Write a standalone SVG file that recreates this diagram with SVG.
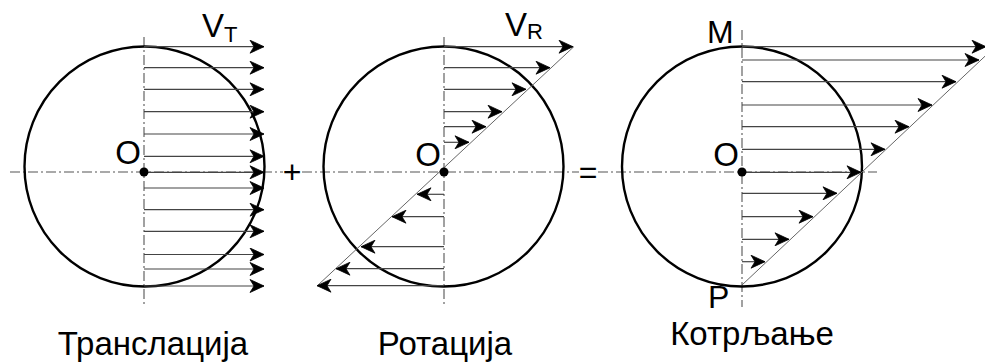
<svg xmlns="http://www.w3.org/2000/svg" width="985" height="362" viewBox="0 0 985 362">
<style>
.wheel{fill:none;stroke:#000;stroke-width:2.4}
.axis{fill:none;stroke:#555;stroke-width:1.1;stroke-dasharray:10 3 2 3}
.vec{fill:none;stroke:#444;stroke-width:1.2;marker-end:url(#ah)}
.diag{fill:none;stroke:#666;stroke-width:1}
.lbl{font-family:"Liberation Sans",Arial,sans-serif;fill:#000}
</style>
<defs>
<marker id="ah" viewBox="-15 -7 16 14" refX="0" refY="0" markerWidth="16" markerHeight="14" orient="auto" markerUnits="userSpaceOnUse">
<path d="M0,0 L-14,-6.5 L-10,0 L-14,6.5 Z" fill="#000" stroke="#000" stroke-width="0.8" stroke-linejoin="miter"/>
</marker>
</defs>

<g id="axes">
<line class="axis" x1="10" y1="172" x2="283" y2="172"/>
<line class="axis" x1="302" y1="172" x2="579" y2="172"/>
<line class="axis" x1="598" y1="172" x2="877" y2="172"/>
<line class="axis" x1="144" y1="37" x2="144" y2="307"/>
<line class="axis" x1="444" y1="37" x2="444" y2="307"/>
<line class="axis" x1="742" y1="30" x2="742" y2="307"/>
</g>

<g id="translation">
<circle class="wheel" cx="144.5" cy="166.5" r="120"/>
<g id="translation-vectors">
<line class="vec" x1="144" y1="46.7" x2="264" y2="46.7"/>
<line class="vec" x1="144" y1="67.7" x2="264" y2="67.7"/>
<line class="vec" x1="144" y1="89.3" x2="264" y2="89.3"/>
<line class="vec" x1="144" y1="111.7" x2="264" y2="111.7"/>
<line class="vec" x1="144" y1="134" x2="264" y2="134"/>
<line class="vec" x1="144" y1="156.3" x2="264" y2="156.3"/>
<line class="vec" x1="144" y1="172.3" x2="264" y2="172.3"/>
<line class="vec" x1="144" y1="188" x2="264" y2="188"/>
<line class="vec" x1="144" y1="209.7" x2="264" y2="209.7"/>
<line class="vec" x1="144" y1="231.3" x2="264" y2="231.3"/>
<line class="vec" x1="144" y1="254.5" x2="264" y2="254.5"/>
<line class="vec" x1="144" y1="269" x2="264" y2="269"/>
<line class="vec" x1="144" y1="286" x2="264" y2="286"/>
</g>
<circle cx="144" cy="172" r="4.5" fill="#000"/>
<text class="lbl" x="141" y="164" font-size="33" text-anchor="end">O</text>
<text class="lbl" x="202" y="37" font-size="33">V<tspan font-size="22" dy="5">T</tspan></text>
<text class="lbl" x="153" y="355" font-size="33" text-anchor="middle">Транслација</text>
</g>

<g id="rotation">
<circle class="wheel" cx="443.5" cy="166.5" r="120"/>
<line class="diag" x1="317" y1="286" x2="574" y2="46.5"/>
<g id="rotation-vectors">
<line class="vec" x1="444" y1="46.7" x2="573" y2="46.7"/>
<line class="vec" x1="444" y1="67.7" x2="550" y2="67.7"/>
<line class="vec" x1="444" y1="89.3" x2="526" y2="89.3"/>
<line class="vec" x1="444" y1="111.7" x2="502" y2="111.7"/>
<line class="vec" x1="444" y1="126.7" x2="486" y2="126.7"/>
<line class="vec" x1="444" y1="142.3" x2="469" y2="142.3"/>
<line class="vec" x1="444" y1="194.3" x2="417" y2="194.3"/>
<line class="vec" x1="444" y1="216.7" x2="392" y2="216.7"/>
<line class="vec" x1="444" y1="246.7" x2="361" y2="246.7"/>
<line class="vec" x1="444" y1="268.7" x2="336" y2="268.7"/>
<line class="vec" x1="444" y1="285.7" x2="317" y2="285.7"/>
</g>
<circle cx="444" cy="172" r="4.5" fill="#000"/>
<text class="lbl" x="441" y="166" font-size="33" text-anchor="end">O</text>
<text class="lbl" x="505" y="36" font-size="33">V<tspan font-size="22" dy="3">R</tspan></text>
<text class="lbl" x="445" y="355" font-size="33" text-anchor="middle">Ротација</text>
</g>

<g id="operators">
<text class="lbl" x="292" y="183" font-size="32" text-anchor="middle">+</text>
<text class="lbl" x="588" y="183" font-size="32" text-anchor="middle">=</text>
</g>

<g id="rolling">
<circle class="wheel" cx="742" cy="166.5" r="120"/>
<line class="diag" x1="742" y1="285" x2="990" y2="51.5"/>
<g id="rolling-vectors">
<line class="vec" x1="742" y1="46.7" x2="986" y2="46.7"/>
<line class="vec" x1="742" y1="60" x2="979" y2="60"/>
<line class="vec" x1="742" y1="81.7" x2="956" y2="81.7"/>
<line class="vec" x1="742" y1="105" x2="932" y2="105"/>
<line class="vec" x1="742" y1="126.7" x2="909" y2="126.7"/>
<line class="vec" x1="742" y1="149.3" x2="885" y2="149.3"/>
<line class="vec" x1="742" y1="172.3" x2="861" y2="172.3"/>
<line class="vec" x1="742" y1="193.3" x2="837" y2="193.3"/>
<line class="vec" x1="742" y1="216.7" x2="813" y2="216.7"/>
<line class="vec" x1="742" y1="239.3" x2="789" y2="239.3"/>
<line class="vec" x1="742" y1="261.7" x2="765" y2="261.7"/>
</g>
<circle cx="742" cy="172" r="4.5" fill="#000"/>
<text class="lbl" x="739" y="166" font-size="33" text-anchor="end">O</text>
<text class="lbl" x="707" y="43" font-size="32">M</text>
<text class="lbl" x="708" y="308" font-size="32">P</text>
<text class="lbl" x="752" y="345" font-size="33" text-anchor="middle">Котрљање</text>
</g>
</svg>
